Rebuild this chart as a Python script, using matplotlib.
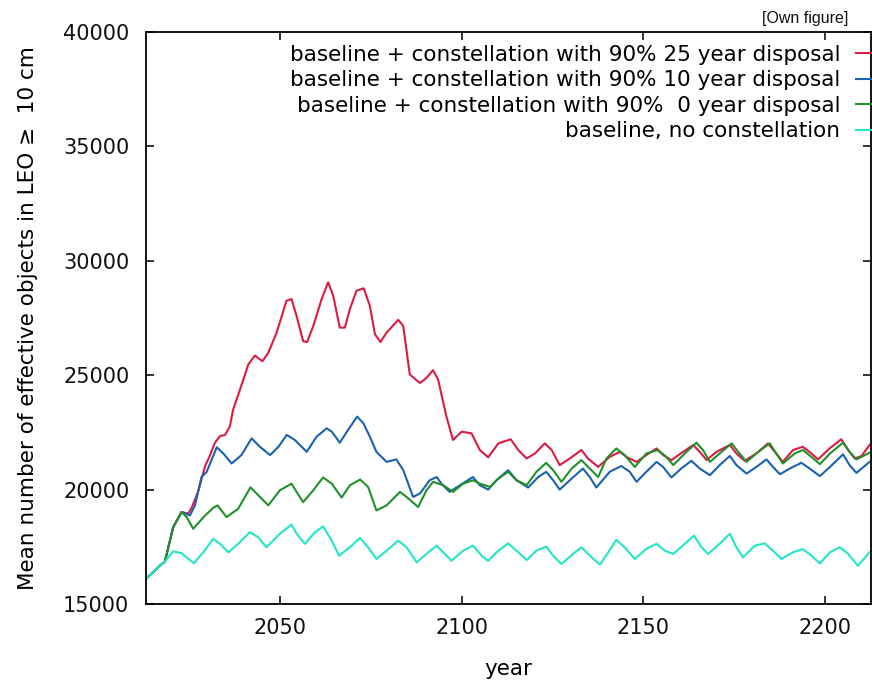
import matplotlib
matplotlib.use("Agg")
import matplotlib.pyplot as plt

START_YR = [2013, 2015, 2017, 2018.2, 2020.5, 2022.8]
START_VAL = [16100, 16400, 16700, 16850, 18360, 19020]

RED_YR = START_YR[:4] + [2020.5, 2022.8, 2024.6, 2025.6, 2027.4, 2029.3, 2030.5, 2032, 2033.4, 2034.8,
    2036.1, 2037, 2038.9, 2041.2, 2043, 2045.1, 2046.7, 2049, 2051.7, 2053.1, 2054.5, 2056.3, 2057.4,
    2059.1, 2061.4, 2063.2, 2064.6, 2066.4, 2067.8, 2069.2, 2071, 2073, 2074.7, 2076.1, 2077.6, 2079.3,
    2082.5, 2083.9, 2085.7, 2088.5, 2090.3, 2092.1, 2093.5, 2095.8, 2097.6, 2100, 2102.7, 2105, 2107.3,
    2110.1, 2113.5, 2115.6, 2117.9, 2120.2, 2122.9, 2124.8, 2127, 2129.8, 2133, 2134.8, 2137.6, 2140.8,
    2143.6, 2145.4, 2148.2, 2150.9, 2153.7, 2155.5, 2157.8, 2161, 2163.8, 2165.6, 2167.5, 2170.2, 2173.9,
    2175.7, 2178, 2181.2, 2184.4, 2186.3, 2188.5, 2191.3, 2194, 2196.4, 2198.2, 2201.4, 2204.6, 2206.5,
    2208.3, 2210.2, 2212.4, 2213.6]
RED_VAL = START_VAL[:4] + [18360, 19020, 18950, 19210, 19930, 21030, 21450, 22050, 22340, 22390,
    22750, 23490, 24370, 25470, 25860, 25610, 25980, 26860, 28250, 28330, 27590, 26490, 26450,
    27150, 28330, 29060, 28470, 27080, 27080, 27890, 28690, 28800, 28030, 26790, 26450, 26860,
    27420, 27150, 25030, 24660, 24880, 25220, 24810, 23190, 22170, 22530, 22460, 21730, 21410,
    22020, 22200, 21730, 21360, 21580, 22020, 21730, 21070, 21360, 21730, 21360, 20990, 21430,
    21650, 21430, 21210, 21510, 21800, 21510, 21290, 21650, 21950, 21650, 21290, 21650, 21950,
    21580, 21260, 21580, 22020, 21650, 21210, 21730, 21870, 21580, 21320, 21800, 22200, 21730,
    21360, 21470, 21950, 22100]

BLUE_YR = START_YR + [2025.1, 2026.5, 2028.3, 2029.7, 2032.5, 2034.3, 2036.6, 2039.3, 2042.1, 2044.4,
    2047.2, 2049.5, 2051.8, 2054, 2057.3, 2060, 2062.8, 2064.2, 2066.4, 2068.7, 2071.2, 2072.9, 2074.7,
    2076.5, 2079.3, 2082, 2083.9, 2086.6, 2088.5, 2091.2, 2093.1, 2094.4, 2096.7, 2099.5, 2103.1, 2105,
    2107.3, 2109.6, 2112.8, 2115.1, 2118.3, 2121.1, 2123.3, 2125.2, 2127, 2130.3, 2133.4, 2135.3,
    2137.1, 2140.8, 2144, 2146.3, 2148.2, 2150.9, 2153.7, 2155.5, 2157.8, 2160.5, 2163.3, 2165.6,
    2168.4, 2171.1, 2173.9, 2175.7, 2178.5, 2181.2, 2184, 2185.8, 2187.7, 2190.4, 2193.6, 2195.9,
    2198.7, 2201.5, 2205.1, 2206.9, 2208.8, 2212.4, 2213.6]
BLUE_VAL = START_VAL + [18870, 19310, 20550, 20770, 21850, 21580, 21140, 21510, 22240, 21870,
    21510, 21870, 22390, 22170, 21650, 22310, 22680, 22530, 22050, 22610, 23190, 22900, 22310,
    21650, 21210, 21320, 20850, 19680, 19830, 20410, 20550, 20260, 19900, 20190, 20550, 20190,
    20000, 20410, 20850, 20410, 20090, 20550, 20780, 20410, 20000, 20480, 20920, 20550,
    20090, 20780, 21030, 20780, 20340, 20780, 21210, 20990, 20530, 20920, 21260, 20920,
    20630, 21070, 21470, 21070, 20700, 20990, 21320, 20990, 20670, 20920, 21170, 20920,
    20590, 20990, 21540, 21070, 20730, 21210, 21300]

GREEN_YR = START_YR + [2024.2, 2026, 2029.3, 2031.5, 2032.7, 2035.2, 2038.4, 2041.8, 2044.4, 2046.7,
    2049.9, 2053.1, 2054.7, 2056.3, 2059.1, 2061.8, 2064.2, 2066.9, 2069.2, 2072, 2074.2, 2076.5,
    2079.3, 2083, 2084.8, 2088, 2090.3, 2092.1, 2094.9, 2097.6, 2100.4, 2103.1, 2105, 2107.8, 2110.1,
    2112.8, 2115.1, 2117.9, 2120.6, 2123.3, 2125.2, 2127.5, 2130.3, 2133, 2135.3, 2137.6, 2139.9,
    2142.6, 2144.9, 2147.7, 2150.9, 2154.1, 2156.4, 2158.3, 2161.5, 2164.7, 2166.5, 2168.4, 2171.1,
    2174.4, 2176.2, 2178.5, 2181.2, 2184.9, 2186.7, 2188.5, 2191.8, 2194, 2196.4, 2198.7, 2201.5,
    2205.1, 2206.9, 2208.8, 2212.4, 2213.6]
GREEN_VAL = START_VAL + [18800, 18290, 18870, 19200, 19310, 18800, 19160, 20100, 19680, 19310,
    19970, 20260, 19850, 19450, 19970, 20530, 20260, 19650, 20190, 20440, 20120, 19090,
    19310, 19900, 19680, 19240, 19970, 20340, 20190, 19900, 20260, 20410, 20260, 20120, 20480,
    20780, 20410, 20190, 20780, 21170, 20850, 20340, 20920, 21290, 20920, 20550, 21360,
    21800, 21510, 20990, 21580, 21730, 21430, 21070, 21580, 22050, 21730, 21210, 21580,
    22020, 21650, 21210, 21580, 22020, 21580, 21140, 21580, 21730, 21430, 21110, 21580,
    22050, 21650, 21320, 21610, 21700]

CYAN_YR = START_YR[:4] + [2020.5, 2022.8, 2026.2, 2028.8, 2031.5, 2033.4, 2035.7, 2038.4, 2041.6, 2043.9,
    2046.2, 2049.9, 2053.1, 2054.5, 2056.8, 2059.6, 2061.8, 2064.2, 2066.2, 2069.2, 2072, 2074.2,
    2076.5, 2079.3, 2082.5, 2084.8, 2087.6, 2090.3, 2093.1, 2094.9, 2097.2, 2100.4, 2103.1, 2105.9,
    2107.3, 2109.6, 2112.8, 2115.6, 2117.9, 2120.6, 2123.3, 2125.2, 2127.5, 2130.7, 2133, 2135.8,
    2138.1, 2140.4, 2142.6, 2144.9, 2147.7, 2150.9, 2153.7, 2156, 2158.3, 2161.5, 2164, 2166.1,
    2167.9, 2171.1, 2173.9, 2175.7, 2177.5, 2180.8, 2183.5, 2185.8, 2188.1, 2191.3, 2194, 2196.4,
    2198.7, 2201.5, 2204.2, 2206.5, 2209.2, 2212.4, 2213.6]
CYAN_VAL = START_VAL[:4] + [17300, 17220, 16780, 17260, 17850, 17630, 17260, 17630, 18140, 17920,
    17480, 18070, 18470, 18070, 17630, 18140, 18390, 17770, 17110, 17480, 17890, 17480,
    16970, 17330, 17770, 17480, 16820, 17190, 17550, 17260, 16890, 17330, 17550, 17040,
    16890, 17260, 17650, 17260, 16920, 17330, 17510, 17110, 16750, 17190, 17480, 17040,
    16720, 17260, 17800, 17480, 16970, 17410, 17630, 17330, 17190, 17630, 17990, 17480,
    17190, 17630, 18070, 17480, 17040, 17550, 17650, 17330, 16970, 17260, 17400, 17110,
    16770, 17260, 17480, 17190, 16670, 17260, 17400]

SERIES = [
    ("baseline + constellation with 90% 25 year disposal", RED_YR, RED_VAL, "#dc1a44"),
    ("baseline + constellation with 90% 10 year disposal", BLUE_YR, BLUE_VAL, "#1a62b0"),
    ("baseline + constellation with 90%  0 year disposal", GREEN_YR, GREEN_VAL, "#22902a"),
    ("baseline, no constellation", CYAN_YR, CYAN_VAL, "#22e6c6"),
]
X_TICKS = [2050, 2100, 2150, 2200]
Y_TICKS = [15000, 20000, 25000, 30000, 35000, 40000]

plt.rcParams.update({
    "font.family": "DejaVu Sans",
    "font.size": 15,
    "axes.linewidth": 1.3,
})

fig = plt.figure(figsize=(8.72, 6.81), dpi=100)
ax = fig.add_axes([146 / 872, 1 - 604 / 681, 725 / 872, 572 / 681])

for label, yr, val, color in SERIES:
    ax.plot(yr, val, color=color, lw=1.5, label=label)

ax.set_xlim(2013, 2212.8)
ax.set_ylim(15000, 40000)
ax.set_xticks(X_TICKS)
ax.set_yticks(Y_TICKS)
ax.tick_params(direction="in", length=6, width=1.2, top=True, right=True,
               labelsize=15, colors="#111111")
ax.tick_params(axis="x", pad=10)
ax.tick_params(axis="y", pad=12)
ax.set_xlabel("year", fontsize=15.5, labelpad=15)
ax.set_ylabel("Mean number of effective objects in LEO \u2265  10 cm", fontsize=15.5, labelpad=18)

leg = ax.legend(loc="upper right", bbox_to_anchor=(1.039, 0.978), frameon=False,
                markerfirst=False, fontsize=15.5, handlelength=2.0, handletextpad=0.75,
                labelspacing=0.26, borderpad=0, borderaxespad=0)

fig.text(848 / 872, 1 - 18 / 681, "[Own figure]", ha="right", va="center",
         fontsize=11.5, family="Liberation Sans", color="#111111")

fig.savefig("out.png", dpi=100)
